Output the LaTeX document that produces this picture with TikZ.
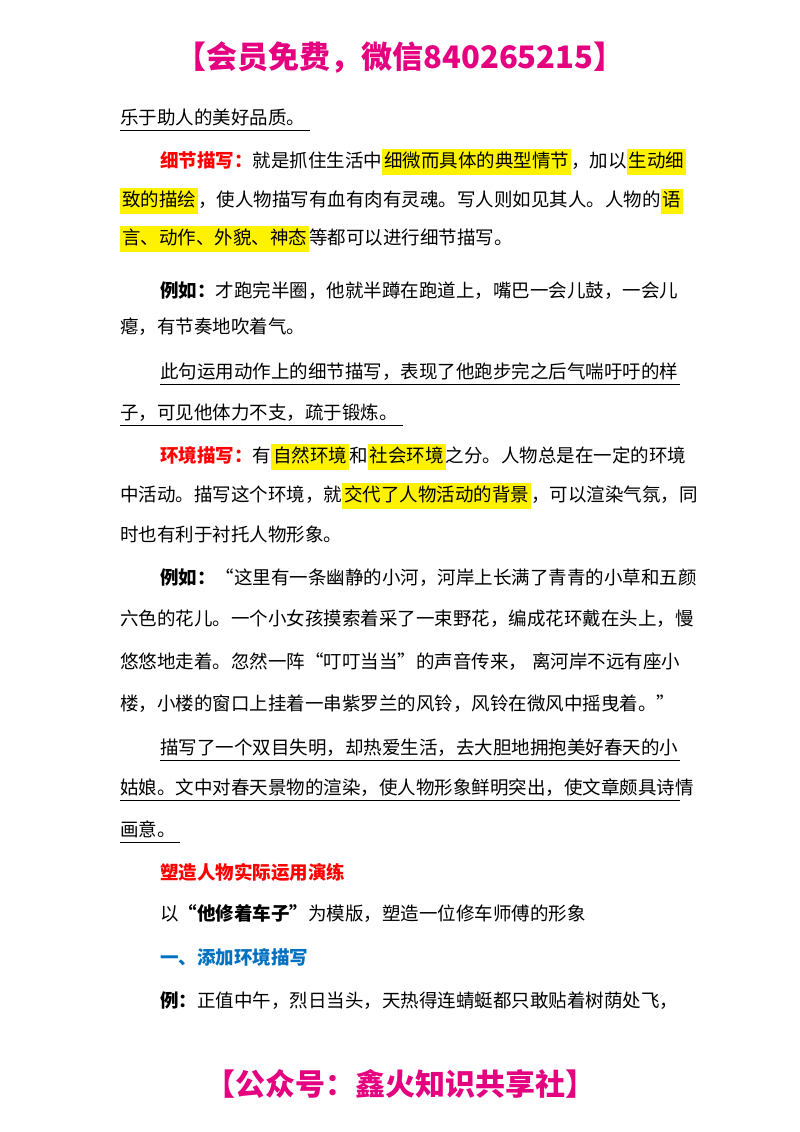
\documentclass[tikz,border=0pt]{standalone}
\usepackage{fontspec}
\setmainfont{Noto Sans CJK SC}
\XeTeXlinebreaklocale "zh"
\XeTeXlinebreakskip=0pt plus 2pt
\definecolor{hdr}{HTML}{E4007F}
\definecolor{lblue}{HTML}{0070C0}
\newcommand{\hl}[1]{{\setlength{\fboxsep}{2pt}\colorbox{yellow}{\strut #1}}}
\newcommand{\bd}[1]{{\bfseries #1}}
\newcommand{\rd}[1]{{\bfseries\color{red}#1}}
\begin{document}
\begin{tikzpicture}[x=1pt,y=-1pt,
  ln/.style={anchor=base west,inner sep=0pt,font=\fontsize{18.5}{20}\selectfont},
  ul/.style={line width=0.8pt}]
\useasboundingbox (0,0) rectangle (800,1132);
\node[anchor=center,font=\fontsize{31}{33}\selectfont\bfseries,text=hdr] (h) at (400,58) {【会员免费，微信840265215】};
\node[anchor=center,font=\fontsize{30}{32}\selectfont\bfseries,text=hdr] (f) at (400,1084) {【公众号：鑫火知识共享社】};
\node[ln] (l1) at (120,124) {乐于助人的美好品质。};
\draw[ul] (l1.base west)++(0,6) -- ++(190,0);
\node[ln] (l2) at (160,167) {\makebox[520pt][s]{\rd{细节描写：}就是抓住生活中\hl{细微而具体的典型情节}，加以\hl{生动细}}};
\node[ln] (l3) at (120,206) {\makebox[560pt][s]{\hl{致的描绘}，使人物描写有血有肉有灵魂。写人则如见其人。人物的\hl{语}}};
\node[ln] (l4) at (120,244) {\hl{言、动作、外貌、神态}等都可以进行细节描写。};
\node[ln] (l5) at (160,297) {\makebox[520pt][s]{\bd{例如：}才跑完半圈，他就半蹲在跑道上，嘴巴一会儿鼓，一会儿}};
\node[ln] (l6) at (120,333) {瘪，有节奏地吹着气。};
\node[ln] (l7) at (160,378) {\makebox[520pt][s]{此句运用动作上的细节描写，表现了他跑步完之后气喘吁吁的样}};
\draw[ul] (l7.base west)++(0,6) -- ++(520,0);
\node[ln] (l8) at (120,419) {子，可见他体力不支，疏于锻炼。};
\draw[ul] (l8.base west)++(0,6) -- ++(283,0);
\node[ln] (l9) at (160,462) {\makebox[520pt][s]{\rd{环境描写：}有\hl{自然环境}和\hl{社会环境}之分。人物总是在一定的环境}};
\node[ln] (l10) at (120,501) {\makebox[560pt][s]{中活动。描写这个环境，就\hl{交代了人物活动的背景}，可以渲染气氛，同}};
\node[ln] (l11) at (120,541) {时也有利于衬托人物形象。};
\node[ln] (l12) at (160,584) {\makebox[520pt][s]{\bd{例如：}“这里有一条幽静的小河，河岸上长满了青青的小草和五颜}};
\node[ln] (l13) at (120,625) {\makebox[560pt][s]{六色的花儿。一个小女孩摸索着采了一束野花，编成花环戴在头上，慢}};
\node[ln] (l14) at (120,668) {\makebox[560pt][s]{悠悠地走着。忽然一阵“叮叮当当”的声音传来， 离河岸不远有座小}};
\node[ln] (l15) at (120,710) {\makebox[560pt][s]{楼，小楼的窗口上挂着一串紫罗兰的风铃，风铃在微风中摇曳着。”}};
\node[ln] (l16) at (160,754) {\makebox[520pt][s]{描写了一个双目失明，却热爱生活，去大胆地拥抱美好春天的小}};
\draw[ul] (l16.base west)++(0,6) -- ++(520,0);
\node[ln] (l17) at (120,794) {\makebox[560pt][s]{姑娘。文中对春天景物的渲染，使人物形象鲜明突出，使文章颇具诗情}};
\draw[ul] (l17.base west)++(0,6) -- ++(560,0);
\node[ln] (l18) at (120,836) {画意。};
\draw[ul] (l18.base west)++(0,6) -- ++(60,0);
\node[ln] (l19) at (160,879) {\rd{塑造人物实际运用演练}};
\node[ln] (l20) at (160,920) {以\bd{“他修着车子”}为模版，塑造一位修车师傅的形象};
\node[ln] (l21) at (160,964) {{\bfseries\color{lblue}一、添加环境描写}};
\node[ln] (l22) at (160,1007) {\makebox[520pt][s]{\bd{例：}正值中午，烈日当头，天热得连蜻蜓都只敢贴着树荫处飞，}};
\end{tikzpicture}
\end{document}
